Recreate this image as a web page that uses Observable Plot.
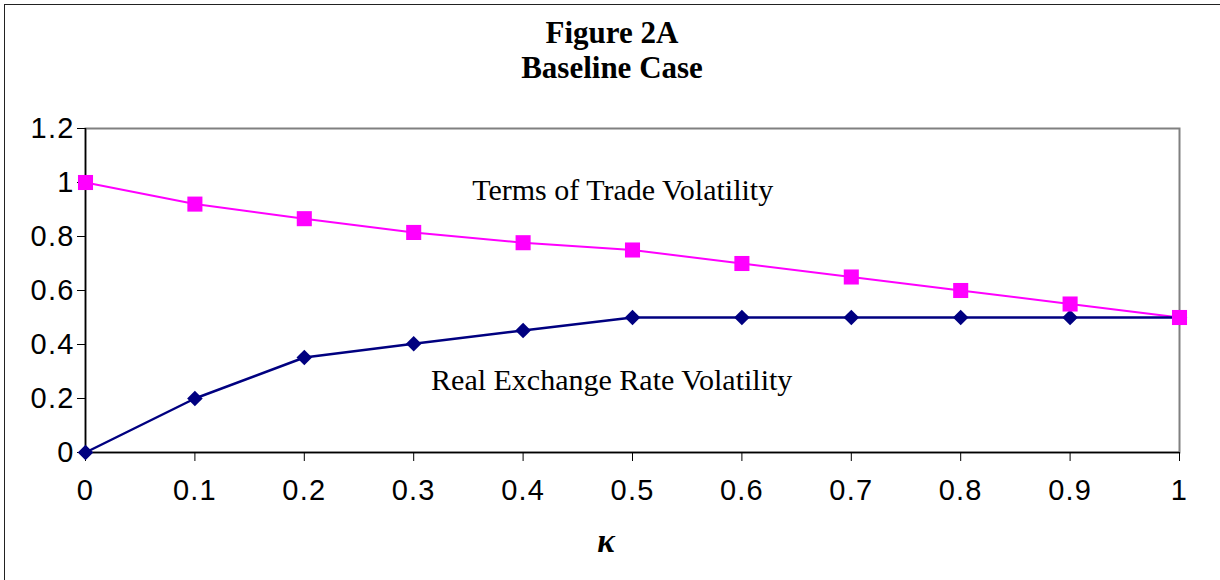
<!DOCTYPE html>
<html><head><meta charset="utf-8">
<script src="https://cdn.jsdelivr.net/npm/d3@7"></script>
<script src="https://cdn.jsdelivr.net/npm/@observablehq/plot@0.6"></script>
<style>
body{margin:0;background:#fff;}
#wrap{position:relative;width:1220px;height:580px;overflow:hidden;}
#border{position:absolute;left:4px;top:4px;width:1240px;height:600px;border:1.5px solid #222;pointer-events:none;}
.title{position:absolute;left:0;width:1224px;text-align:center;font-family:"Liberation Serif","Times New Roman",serif;font-weight:bold;font-size:31px;line-height:31px;color:#000;}
#xlabel{position:absolute;left:0;width:1212px;top:525px;text-align:center;font-family:"Liberation Serif","Times New Roman",serif;font-weight:bold;font-style:italic;font-size:33px;line-height:33px;}
#chart{position:absolute;left:0;top:100px;}
#chart svg g[aria-label="y-axis tick label"] text,
#chart svg g[aria-label="x-axis tick label"] text{letter-spacing:1.2px;}
</style></head>
<body>
<div id="wrap">
<div class="title" style="top:17px">Figure 2A</div>
<div class="title" style="top:52px">Baseline Case</div>
<div id="chart"></div>
<div id="xlabel">κ</div>
<div id="border"></div>
</div>
<script>
const kappa = [0, 0.1, 0.2, 0.3, 0.4, 0.5, 0.6, 0.7, 0.8, 0.9, 1];
const termsOfTrade = [1, 0.92, 0.866, 0.815, 0.777, 0.75, 0.70, 0.65, 0.60, 0.55, 0.50];
const realExchangeRate = [0, 0.2, 0.352, 0.403, 0.452, 0.5, 0.5, 0.5, 0.5, 0.5, 0.5];
const xTicks = [0, 0.1, 0.2, 0.3, 0.4, 0.5, 0.6, 0.7, 0.8, 0.9, 1];
const yTicks = [0, 0.2, 0.4, 0.6, 0.8, 1, 1.2];
const labels = [
  {x: 0.491, y: 0.970, text: "Terms of Trade Volatility"},
  {x: 0.481, y: 0.267, text: "Real Exchange Rate Volatility"}
];

const tot = kappa.map((k, i) => ({k, v: termsOfTrade[i]}));
const rer = kappa.map((k, i) => ({k, v: realExchangeRate[i]}));

const chart = Plot.plot({
  width: 1220,
  height: 480,
  marginLeft: 85,
  marginRight: 41,
  marginTop: 28,
  marginBottom: 128,
  x: {domain: [0, 1]},
  y: {domain: [0, 1.2]},
  style: {fontFamily: "'Liberation Sans', Arial, sans-serif", background: "transparent"},
  marks: [
    Plot.frame({stroke: "#808080", strokeWidth: 2}),
    Plot.ruleX([0], {stroke: "#000", strokeWidth: 1.5}),
    Plot.ruleY([0], {stroke: "#000", strokeWidth: 1.5}),
    Plot.axisY({ticks: yTicks, tickSize: 8, tickPadding: 3, fontSize: 29, stroke: "#000", label: null, tickFormat: d => String(d), color: "#000"}),
    Plot.axisX({ticks: xTicks, tickSize: 9, tickPadding: 18, fontSize: 29, stroke: "#000", label: null, tickFormat: d => String(d), color: "#000"}),
    Plot.line(tot, {x: "k", y: "v", stroke: "#FF00FF", strokeWidth: 2}),
    Plot.line(rer, {x: "k", y: "v", stroke: "#000080", strokeWidth: 2.5}),
    Plot.dot(rer, {x: "k", y: "v", symbol: "diamond2", r: 7, fill: "#000080", stroke: "none"}),
    Plot.dot(tot, {x: "k", y: "v", symbol: "square", r: 8.5, fill: "#FF00FF", stroke: "none"}),
    Plot.text(labels, {x: "x", y: "y", text: "text", fontSize: 30, fontFamily: "'Liberation Serif', 'Times New Roman', serif", fill: "#000"})
  ]
});
document.getElementById("chart").appendChild(chart);
</script>
</body></html>
